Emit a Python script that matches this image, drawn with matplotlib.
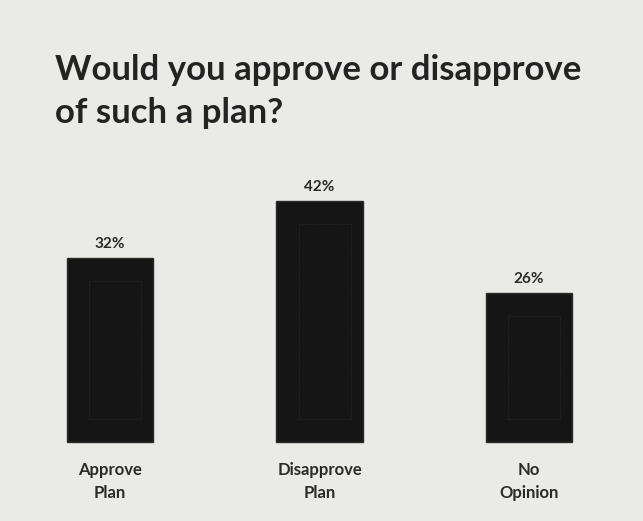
import matplotlib
matplotlib.use('Agg')
import matplotlib.pyplot as plt
import numpy as np

plt.rcParams['font.family'] = ['Lato', 'DejaVu Sans']

categories = [('Approve', 'Plan'), ('Disapprove', 'Plan'), ('No', 'Opinion')]
values = [32, 42, 26]
labels = ['32%', '42%', '26%']
title_lines = ['Would you approve or disapprove', 'of such a plan?']

bg = '#eaeae7'
bar_color = '#151515'
txt = '#2a2a2a'

fig = plt.figure(figsize=(6.43, 5.21), dpi=100, facecolor=bg)
ax = fig.add_axes([0, 0, 1, 1])
ax.set_facecolor(bg)

x = np.arange(len(values))
ax.bar(x, values, width=0.415, color=bar_color, edgecolor='#2a2a2a', lw=1)

# faint inner frame seen on the printed bars
for xi, v in zip(x, values):
    ax.add_patch(plt.Rectangle((xi - 0.1, 4), 0.25, v - 8, fill=False,
                               edgecolor='#262626', lw=0.8, ls=(0, (1, 1))))

ax.set_xlim(-0.525, 2.544)
ax.set_ylim(-13.7, 76.9)
ax.axis('off')

for xi, v, lab in zip(x, values, labels):
    ax.text(xi, v + 1.2, lab, ha='center', va='bottom', fontsize=11,
            fontweight='bold', color=txt)

for xi, (l1, l2) in zip(x, categories):
    ax.text(xi, -4.9, l1, ha='center', va='center', fontsize=12,
            fontweight='bold', color=txt)
    ax.text(xi, -8.8, l2, ha='center', va='center', fontsize=12,
            fontweight='bold', color=txt)

fig.text(0.085, 1 - 80 / 521, title_lines[0], ha='left', va='baseline',
         fontsize=25, fontweight='bold', color='#232323')
fig.text(0.085, 1 - 123 / 521, title_lines[1], ha='left', va='baseline',
         fontsize=25, fontweight='bold', color='#232323')

plt.savefig('out.png', dpi=100, facecolor=bg)
